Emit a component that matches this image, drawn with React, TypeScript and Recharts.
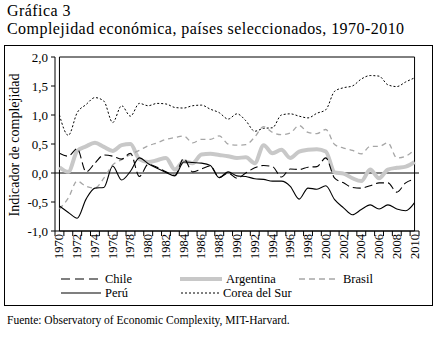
import {
  LineChart,
  Line,
  XAxis,
  YAxis,
  ReferenceLine,
  ReferenceArea,
} from 'recharts';

const years = [
  1970, 1971, 1972, 1973, 1974, 1975, 1976, 1977, 1978, 1979, 1980, 1981, 1982, 1983,
  1984, 1985, 1986, 1987, 1988, 1989, 1990, 1991, 1992, 1993, 1994, 1995, 1996, 1997,
  1998, 1999, 2000, 2001, 2002, 2003, 2004, 2005, 2006, 2007, 2008, 2009, 2010,
];

const chile = [
  0.34, 0.29, 0.42, 0.02, 0.17, 0.31, 0.29, 0.24, 0.34, -0.06, 0.15, 0.1, 0.02, -0.04,
  0.25, 0.02, 0.07, 0.12, -0.08, 0.0, -0.09, 0.0, 0.09, 0.13, 0.11, -0.07, 0.07, 0.06,
  0.1, 0.11, 0.26, -0.09, -0.17, -0.25, -0.26, -0.22, -0.17, -0.17, -0.33, -0.17, -0.11,
];

const argentina = [
  0.1, 0.02, 0.38, 0.46, 0.52, 0.45, 0.38, 0.48, 0.5, 0.24, 0.19, 0.22, 0.26, 0.06,
  0.2, 0.17, 0.32, 0.33, 0.31, 0.29, 0.26, 0.27, 0.17, 0.48, 0.34, 0.4, 0.26, 0.37,
  0.4, 0.41, 0.37, 0.01, -0.01, -0.09, -0.14, 0.06, -0.09, 0.06, 0.09, 0.11, 0.19,
];

const brasil = [
  -0.62, -0.43, -0.14, -0.23, -0.26, -0.09, 0.14, 0.23, 0.32, 0.39, 0.47, 0.52, 0.58, 0.61,
  0.64, 0.52, 0.58, 0.58, 0.64, 0.5, 0.48, 0.49, 0.62, 0.8, 0.7, 0.66, 0.69, 0.82,
  0.7, 0.68, 0.75, 0.49, 0.43, 0.39, 0.33, 0.46, 0.46, 0.52, 0.26, 0.29, 0.4,
];

const peru = [
  -0.57, -0.68, -0.78, -0.45, -0.26, -0.25, 0.12, -0.12, 0.03, 0.26, 0.16, 0.08, 0.01, -0.05,
  0.19, 0.18, 0.17, 0.13, -0.08, 0.02, -0.05, -0.06, -0.1, -0.11, -0.14, -0.14, -0.23, -0.45,
  -0.26, -0.28, -0.22, -0.46, -0.6, -0.72, -0.63, -0.55, -0.62, -0.55, -0.62, -0.65, -0.51,
];

const corea = [
  1.0, 0.65, 1.04, 1.18, 1.3, 1.24, 0.87, 1.16, 0.98, 1.2, 1.16, 1.2, 1.19, 1.13,
  1.12, 1.16, 1.17, 1.1, 1.04, 0.93, 1.02, 0.9, 0.72, 0.77, 0.78, 1.0, 1.02, 0.98,
  0.95, 1.03, 1.09, 1.41, 1.47, 1.5, 1.62, 1.68, 1.67, 1.52, 1.49, 1.57, 1.64,
];

const yTicks = [-1, -0.5, 0, 0.5, 1, 1.5, 2];

const data = years.map((year, i) => ({
  year,
  chile: chile[i],
  argentina: argentina[i],
  brasil: brasil[i],
  peru: peru[i],
  corea: corea[i],
}));

const FONT = '"Liberation Serif", "Times New Roman", serif';
const PLOT_W = 364;
const STEP = PLOT_W / years.length;

const YearTick = (props: any) => {
  const { x, y, payload, index } = props;
  return (
    <g>
      <line x1={x - STEP / 2} x2={x - STEP / 2} y1={y} y2={y + 5} stroke="#000" />
      {index === years.length - 1 && (
        <line x1={x + STEP / 2} x2={x + STEP / 2} y1={y} y2={y + 5} stroke="#000" />
      )}
      {index % 2 === 0 && (
        <text
          transform={`translate(${x + 4},${y + 3}) rotate(-90)`}
          textAnchor="end"
          fontSize={12.5}
          fontFamily={FONT}
          fill="#000"
        >
          {payload.value}
        </text>
      )}
    </g>
  );
};

const LegendItem = ({
  left,
  top,
  lineW,
  label,
  stroke,
  width,
  dash,
}: {
  left: number;
  top: number;
  lineW: number;
  label: string;
  stroke: string;
  width: number;
  dash?: string;
}) => (
  <div style={{ position: 'absolute', left, top, height: 14, display: 'flex', alignItems: 'center' }}>
    <svg width={lineW} height={8} style={{ display: 'block' }}>
      <line x1={0} x2={lineW} y1={4} y2={4} stroke={stroke} strokeWidth={width} strokeDasharray={dash} />
    </svg>
    <span style={{ marginLeft: 4, fontSize: 12.5, lineHeight: '14px' }}>{label}</span>
  </div>
);

const titleStyle = {
  position: 'absolute' as const,
  left: 7,
  fontSize: 16,
  lineHeight: '18px',
  letterSpacing: 0.45,
  whiteSpace: 'nowrap' as const,
};

const App = () => (
  <div
    style={{
      position: 'absolute',
      left: 0,
      top: 0,
      width: 437,
      height: 338,
      background: '#fff',
      fontFamily: FONT,
      color: '#000',
    }}
  >
    <div style={{ ...titleStyle, top: 2 }}>Gráfica 3</div>
    <div style={{ ...titleStyle, top: 20 }}>
      Complejidad económica, países seleccionados, 1970-2010
    </div>

    <div
      style={{
        position: 'absolute',
        left: 4,
        top: 45,
        width: 429,
        height: 261,
        border: '1px solid #000',
        boxSizing: 'border-box',
      }}
    >
      <LineChart
        width={427}
        height={259}
        data={data}
        margin={{ top: 11, right: 13, left: 0, bottom: 34 }}
      >
        <XAxis
          dataKey="year"
          interval={0}
          height={40}
          padding={{ left: STEP / 2, right: STEP / 2 }}
          tickLine={false}
          tickSize={0}
          tickMargin={0}
          axisLine={{ stroke: '#000' }}
          tick={<YearTick />}
        />
        <YAxis
          width={50}
          domain={[-1, 2]}
          ticks={yTicks}
          interval={0}
          tickSize={4}
          tickMargin={3}
          axisLine={{ stroke: '#000' }}
          tickLine={{ stroke: '#000' }}
          tick={{ fontSize: 13, fontFamily: FONT, fill: '#000' }}
          tickFormatter={(v: number) => v.toFixed(1).replace('.', ',')}
        />
        <ReferenceLine y={0} stroke="#000" strokeWidth={1} />
        <Line type="monotone" dataKey="argentina" stroke="#c8c8c8" strokeWidth={4} dot={false} activeDot={false} isAnimationActive={false} />
        <Line type="monotone" dataKey="brasil" stroke="#a6a6a6" strokeWidth={1.3} strokeDasharray="5 4" dot={false} activeDot={false} isAnimationActive={false} />
        <Line type="monotone" dataKey="corea" stroke="#000" strokeWidth={1} strokeDasharray="2 2" dot={false} activeDot={false} isAnimationActive={false} />
        <Line type="monotone" dataKey="chile" stroke="#000" strokeWidth={1.1} strokeDasharray="8 4" dot={false} activeDot={false} isAnimationActive={false} />
        <Line type="monotone" dataKey="peru" stroke="#000" strokeWidth={1.1} dot={false} activeDot={false} isAnimationActive={false} />
        <ReferenceArea y1={-1} y2={2} fill="none" stroke="#000" strokeWidth={1} />
      </LineChart>

      <div
        style={{
          position: 'absolute',
          left: 10,
          top: 99,
          width: 0,
          height: 0,
        }}
      >
        <div
          style={{
            position: 'absolute',
            transform: 'translate(-50%, -50%) rotate(-90deg)',
            whiteSpace: 'nowrap',
            fontSize: 14,
          }}
        >
          Indicador de complejidad
        </div>
      </div>

      <LegendItem left={56} top={226} lineW={40} label="Chile" stroke="#000" width={1.1} dash="9 5" />
      <LegendItem left={175} top={226} lineW={42} label="Argentina" stroke="#c8c8c8" width={4} />
      <LegendItem left={294} top={226} lineW={40} label="Brasil" stroke="#a6a6a6" width={1.3} dash="6 4" />
      <LegendItem left={56} top={240} lineW={40} label="Perú" stroke="#000" width={1.1} />
      <LegendItem left={176} top={240} lineW={38} label="Corea del Sur" stroke="#000" width={1} dash="2 2" />
    </div>

    <div style={{ position: 'absolute', left: 7, top: 313, fontSize: 11.5, lineHeight: '14px' }}>
      Fuente: Observatory of Economic Complexity, MIT-Harvard.
    </div>
  </div>
);

export default App;
